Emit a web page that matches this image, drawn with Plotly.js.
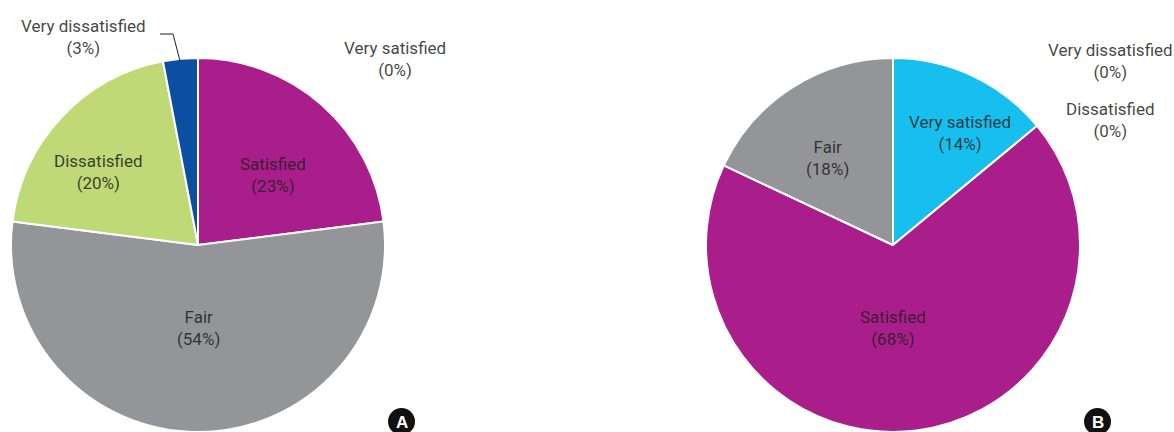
<!DOCTYPE html>
<html>
<head>
<meta charset="utf-8">
<script src="https://cdn.plot.ly/plotly-3.0.1.min.js"></script>
<style>
  html, body { margin: 0; padding: 0; background: #fff; overflow: hidden; }
  #chart { width: 1174px; height: 432px; }
</style>
</head>
<body>
<div id="chart"></div>
<script>
// ---- Data ----
const categories = ["Very satisfied", "Satisfied", "Fair", "Dissatisfied", "Very dissatisfied"];
const valuesA = [0, 23, 54, 20, 3];
const valuesB = [14, 68, 18, 0, 0];
const colors = ["#17BFEF", "#AA1E8C", "#939598", "#BED975", "#0C4EA1"];

// ---- Layout helpers (pixel -> paper) ----
const W = 1174, H = 432;
const px = x => x / W;
const py = y => (H - y) / H;

const R = 187;
const centerA = [198, 245];
const centerB = [893, 245];

function pieTrace(values, c) {
  return {
    type: "pie",
    labels: categories,
    values: values,
    sort: false,
    direction: "clockwise",
    rotation: 0,
    textinfo: "none",
    hoverinfo: "label+percent",
    marker: { colors: colors, line: { color: "#ffffff", width: 2 } },
    domain: { x: [px(c[0] - R), px(c[0] + R)], y: [py(c[1] + R), py(c[1] - R)] },
    showlegend: false
  };
}

// label positions (pixel) for each category in each chart
const labelPosA = [[395, 59], [273, 175], [198, 328], [98, 172], [83, 37]];
const labelPosB = [[960, 133], [893, 328], [827, 158], [1110, 120], [1110, 61]];

const textFont = { family: "Roboto, Liberation Sans Narrow, sans-serif", size: 17, color: "rgba(35,31,32,0.85)" };

function labelAnnotations(values, pos) {
  return categories.map((cat, i) => ({
    xref: "paper", yref: "paper",
    x: px(pos[i][0]), y: py(pos[i][1]),
    xanchor: "center", yanchor: "middle",
    text: cat + "<br>(" + values[i] + "%)",
    showarrow: false,
    font: textFont
  }));
}

const letterFont = { family: "Liberation Sans, Arial, sans-serif", size: 17, color: "#ffffff" };

const annotations = [
  ...labelAnnotations(valuesA, labelPosA),
  ...labelAnnotations(valuesB, labelPosB),
  { xref: "paper", yref: "paper", x: px(401.5), y: py(422), xanchor: "center", yanchor: "middle",
    text: "<b>A</b>", showarrow: false, font: letterFont },
  { xref: "paper", yref: "paper", x: px(1097.5), y: py(422), xanchor: "center", yanchor: "middle",
    text: "<b>B</b>", showarrow: false, font: letterFont }
];

const shapes = [
  { type: "path", xref: "paper", yref: "paper",
    path: `M ${px(160)} ${py(34)} L ${px(173)} ${py(34)} L ${px(180)} ${py(61)}`,
    line: { color: "#231F20", width: 1 } },
  { type: "circle", xref: "paper", yref: "paper",
    x0: px(388), x1: px(415), y0: py(435), y1: py(408),
    fillcolor: "#111111", line: { width: 0 } },
  { type: "circle", xref: "paper", yref: "paper",
    x0: px(1084), x1: px(1111), y0: py(435), y1: py(408),
    fillcolor: "#111111", line: { width: 0 } }
];

const layout = {
  width: W, height: H,
  margin: { l: 0, r: 0, t: 0, b: 0, pad: 0 },
  paper_bgcolor: "#ffffff",
  plot_bgcolor: "#ffffff",
  annotations: annotations,
  shapes: shapes,
  showlegend: false
};

Plotly.newPlot("chart", [pieTrace(valuesA, centerA), pieTrace(valuesB, centerB)], layout, { displayModeBar: false, staticPlot: true });
</script>
</body>
</html>
